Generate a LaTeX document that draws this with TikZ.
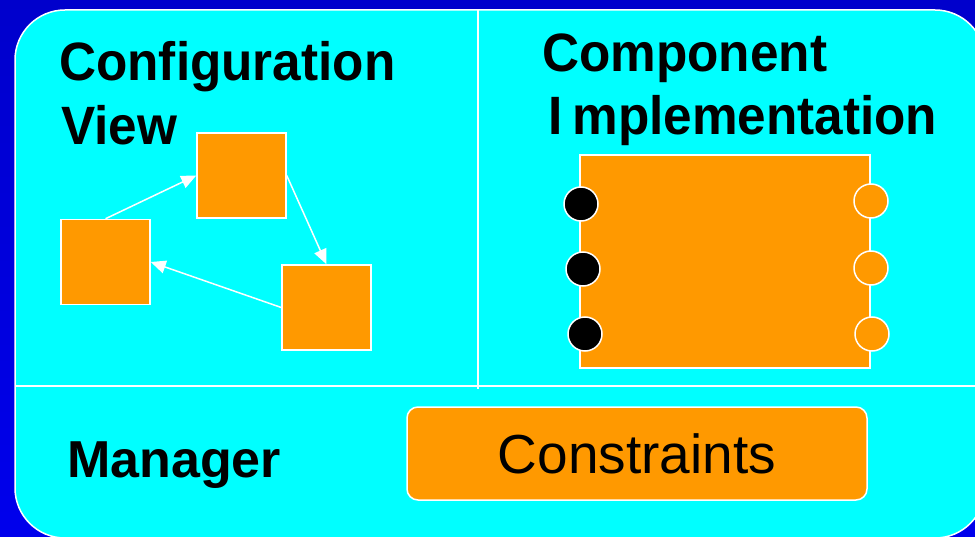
\documentclass[tikz,border=0pt]{standalone}
\usepackage{fontspec}
\setmainfont{Liberation Sans}
\newfontfamily\headfont{Liberation Sans Bold}[FakeStretch=0.95]
\usetikzlibrary{arrows.meta}
\definecolor{deepblue}{RGB}{0,0,204}
\definecolor{brightblue}{RGB}{0,0,236}
\definecolor{panel}{RGB}{0,255,255}
\definecolor{amber}{RGB}{255,153,0}
\tikzset{
  block/.style={draw=white, line width=1.5pt, fill=amber, inner sep=0pt},
  sqbox/.style={block, minimum width=89pt, minimum height=85pt},
  inport/.style={circle, draw=white, line width=1.5pt, fill=black, minimum size=34pt, inner sep=0pt},
  outport/.style={circle, draw=white, line width=1.5pt, fill=amber, minimum size=34pt, inner sep=0pt},
  link/.style={draw=white, line width=1.5pt, -{Triangle[length=15pt,width=13pt]}},
  divider/.style={draw=white, line width=1.5pt},
  heading/.style={anchor=base west, inner sep=0pt, font=\fontsize{54}{54}\headfont},
}
\begin{document}
\begin{tikzpicture}[x=1pt, y=-1pt]
  % backdrop
  \useasboundingbox (0,0) rectangle (975,537);
  \shade[top color=deepblue, bottom color=brightblue] (0,0) rectangle (975,537);
  \begin{scope}
    \clip (0,0) rectangle (975,537);
    \draw[fill=panel, draw=white, line width=1.5pt, rounded corners=50pt] (15,10) rectangle (985,538);
    % section dividers
    \draw[divider] (15,386) -- (985,386);
    \draw[divider] (478,10) -- (478,389);
  \end{scope}

  % section titles
  \node[heading] (tconf) at (59,81) {Configuration};
  \node[heading] (tview) at (61,145) {View};
  \node[heading] (tcomp) at (542,72) {Component};
  \node[heading] (timpl) at (548,135) {I\kern10pt mplementation};
  \node[anchor=base west, inner sep=0pt, font=\fontsize{52}{52}\selectfont\bfseries] (tmgr) at (67,477) {Manager};

  % configuration view: three components and their links
  \node[sqbox] (ca) at (241.5,175.5) {};
  \node[sqbox] (cb) at (105.5,262) {};
  \node[sqbox] (cc) at (326.5,307.5) {};
  \draw[link] (cb.north) -- (ca.west);
  \draw[link] (ca.east) -- (cc.north);
  \draw[link] (cc.west) -- (cb.east);

  % component implementation with its ports
  \node[block, minimum width=290pt, minimum height=213pt] (impl) at (725,261.5) {};
  \node[inport] (in1) at (581,204) {};
  \node[inport] (in2) at (583,269) {};
  \node[inport] (in3) at (585,334) {};
  \node[outport] (out1) at (871,201) {};
  \node[outport] (out2) at (871,268) {};
  \node[outport] (out3) at (872,334) {};

  % manager constraints
  \node[block, rounded corners=11pt, minimum width=460pt, minimum height=93pt,
        font=\fontsize{55}{55}\selectfont] (cons) at (637,453.5) {Constraints};
\end{tikzpicture}
\end{document}
